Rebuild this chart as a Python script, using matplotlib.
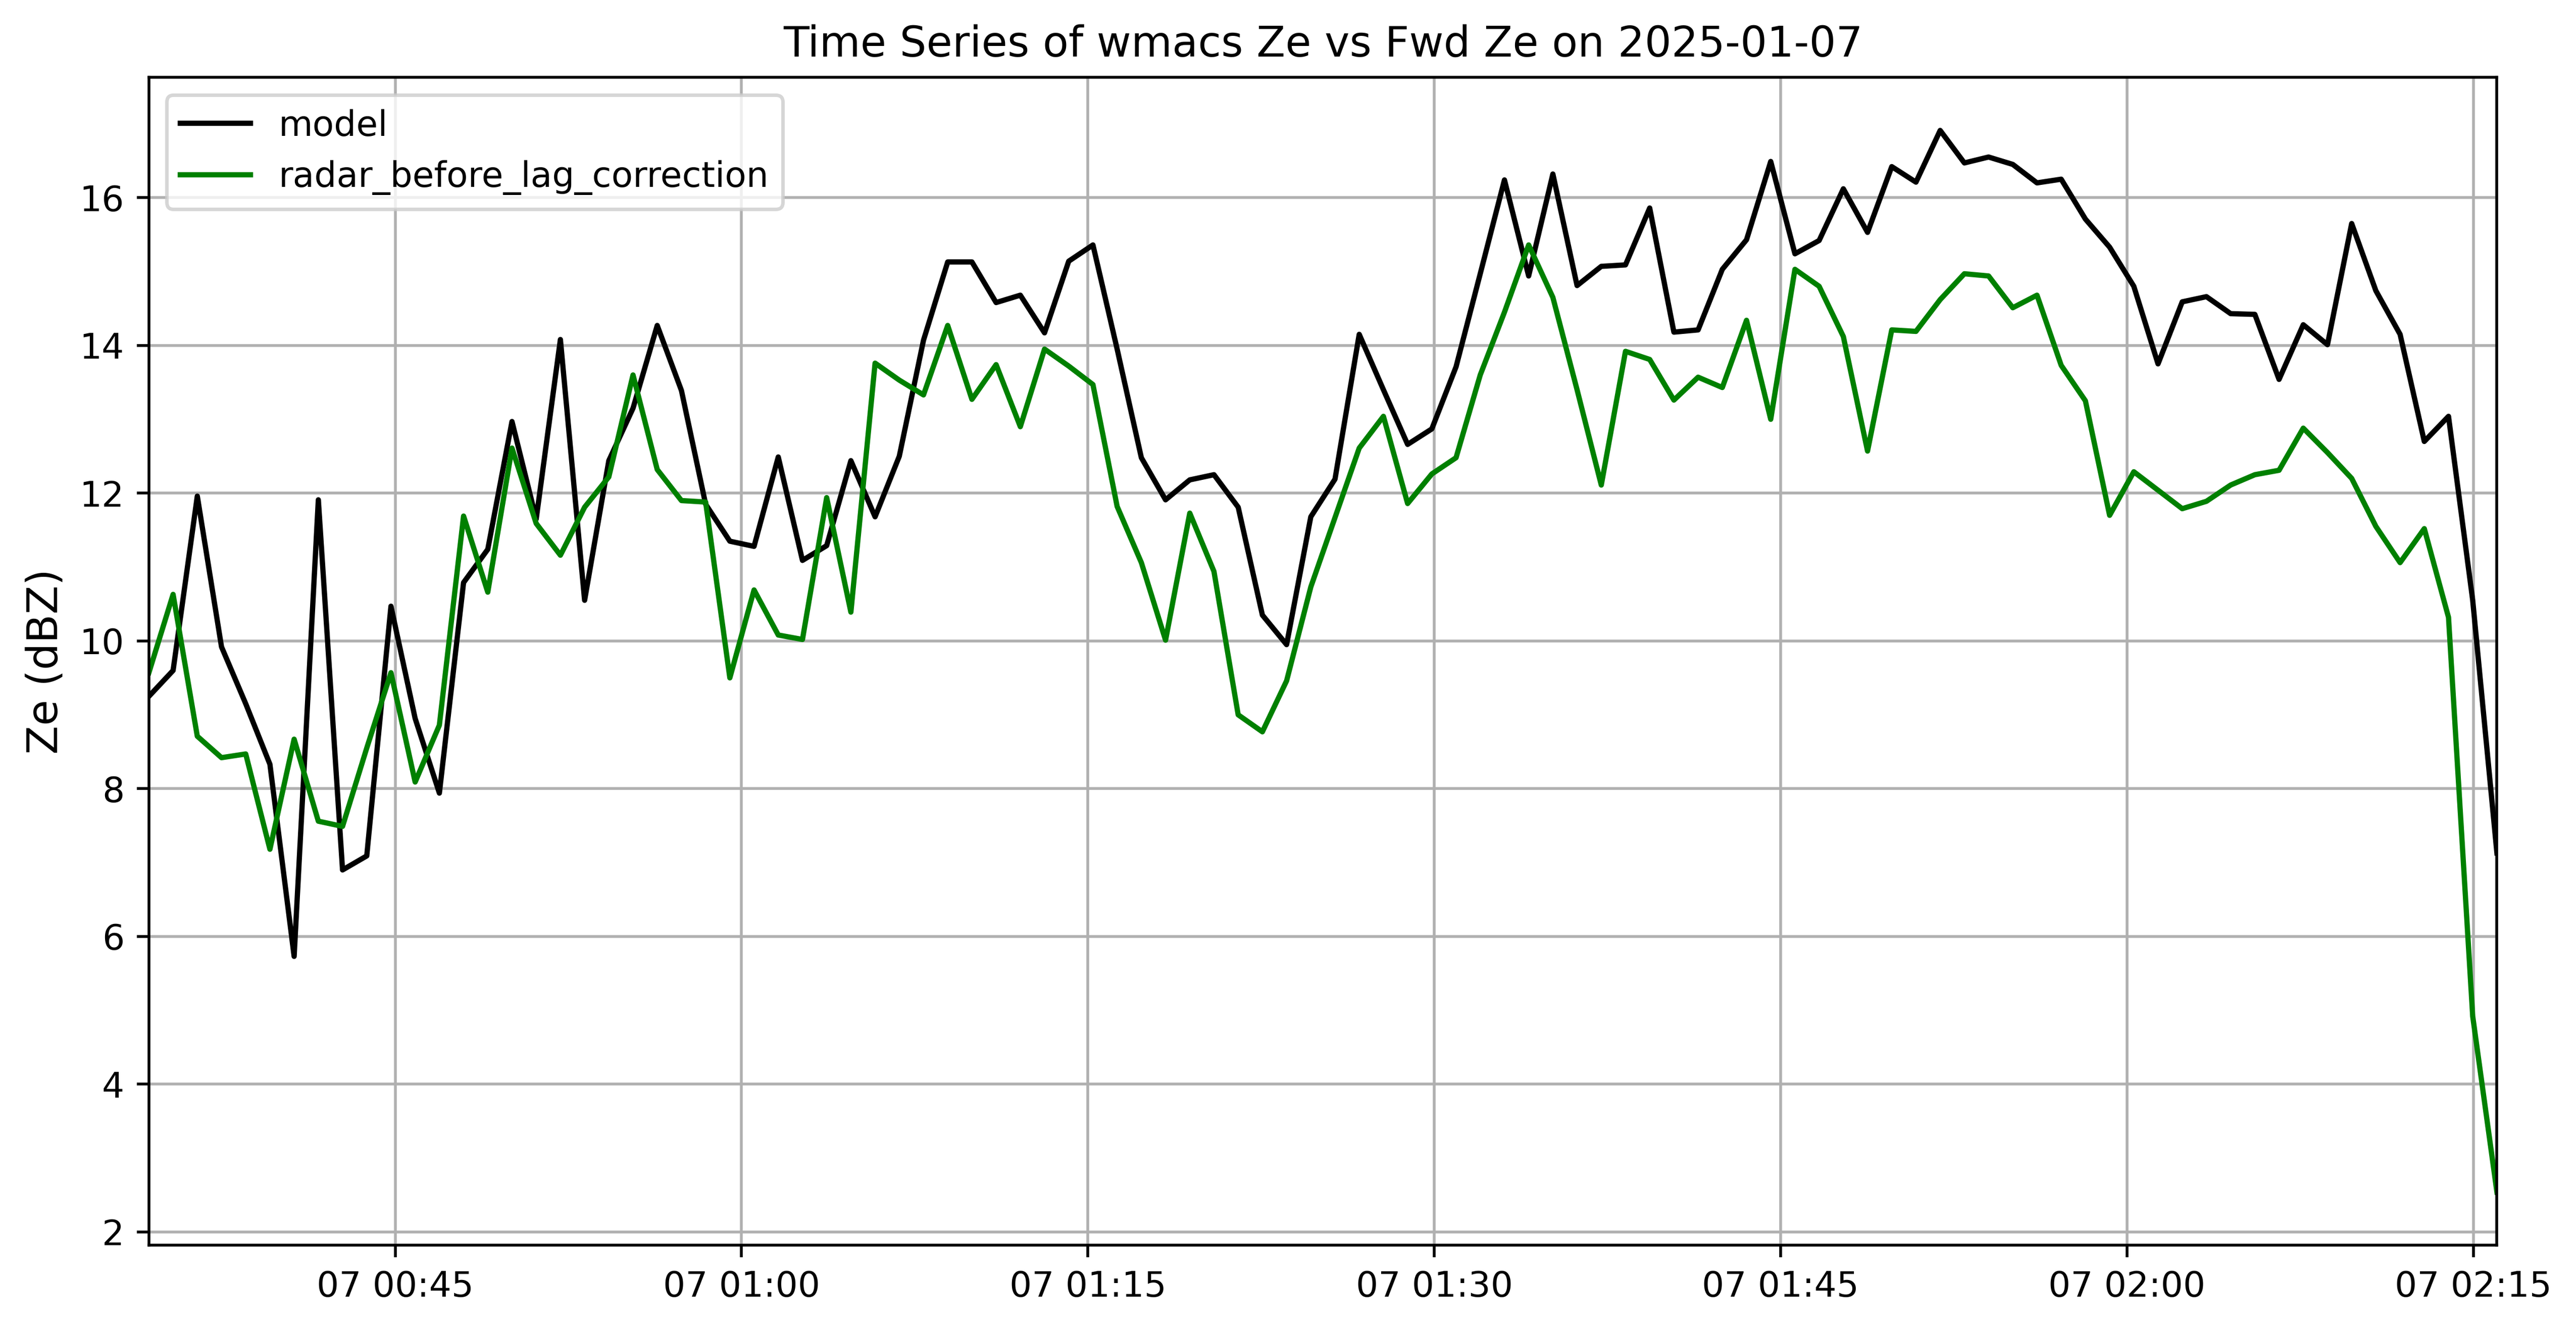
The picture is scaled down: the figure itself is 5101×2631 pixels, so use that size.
import numpy as np
import pandas as pd
import matplotlib
matplotlib.use("Agg")
import matplotlib.pyplot as plt

# Czas pomiarów (co ~63 s)
czas = pd.date_range("2025-01-07 00:34:20", periods=98, freq="62900ms").to_numpy()

# Ze modelu [dBZ]
model = [
    9.25, 9.60, 11.96, 9.92, 9.15, 8.33, 5.73, 11.91, 6.90, 7.09,
    10.47, 8.95, 7.94, 10.79, 11.24, 12.97, 11.65, 14.08, 10.55, 12.44,
    13.15, 14.27, 13.39, 11.85, 11.35, 11.28, 12.49, 11.09, 11.29, 12.44,
    11.68, 12.50, 14.07, 15.13, 15.13, 14.58, 14.68, 14.17, 15.14, 15.36,
    13.95, 12.48, 11.91, 12.18, 12.25, 11.81, 10.35, 9.95, 11.68, 12.19,
    14.15, 13.40, 12.66, 12.87, 13.71, 14.97, 16.24, 14.94, 16.32, 14.81,
    15.07, 15.09, 15.86, 14.18, 14.21, 15.03, 15.43, 16.49, 15.24, 15.42,
    16.12, 15.53, 16.42, 16.21, 16.91, 16.47, 16.55, 16.45, 16.20, 16.25,
    15.71, 15.33, 14.80, 13.75, 14.59, 14.66, 14.43, 14.42, 13.54, 14.28,
    14.01, 15.65, 14.74, 14.15, 12.70, 13.04, 10.55, 7.13,
]

# Ze radaru przed korekcją opóźnienia [dBZ]
radar = [
    9.57, 10.63, 8.71, 8.42, 8.47, 7.18, 8.67, 7.56, 7.49, 8.55,
    9.57, 8.09, 8.86, 11.69, 10.66, 12.61, 11.59, 11.16, 11.81, 12.22,
    13.60, 12.32, 11.90, 11.88, 9.50, 10.69, 10.08, 10.02, 11.94, 10.39,
    13.76, 13.53, 13.33, 14.27, 13.27, 13.74, 12.90, 13.95, 13.72, 13.47,
    11.82, 11.06, 10.01, 11.73, 10.94, 9.00, 8.77, 9.46, 10.73, 11.67,
    12.61, 13.04, 11.86, 12.26, 12.48, 13.60, 14.45, 15.36, 14.65, 13.40,
    12.11, 13.92, 13.81, 13.26, 13.57, 13.43, 14.34, 13.00, 15.03, 14.80,
    14.12, 12.57, 14.21, 14.19, 14.62, 14.97, 14.94, 14.51, 14.68, 13.73,
    13.25, 11.70, 12.29, 12.04, 11.79, 11.89, 12.11, 12.25, 12.31, 12.88,
    12.55, 12.20, 11.55, 11.06, 11.52, 10.32, 4.92, 2.54,
]

fig = plt.figure(figsize=(5101 / 500, 2631 / 500), dpi=500)
ax = fig.add_axes([0.0578, 0.0631, 0.9115, 0.8787])

ax.plot(czas, model, color="black", label="model")
ax.plot(czas, radar, color="green", label="radar_before_lag_correction")
ax.set_xlim(czas[0], czas[-1])

ax.set_title("Time Series of wmacs Ze vs Fwd Ze on 2025-01-07", fontsize=12)
ax.set_ylabel("Ze (dBZ)", fontsize=12)
ax.legend(loc="upper left")
ax.grid(True)

fig.savefig("out.png", dpi=500)
